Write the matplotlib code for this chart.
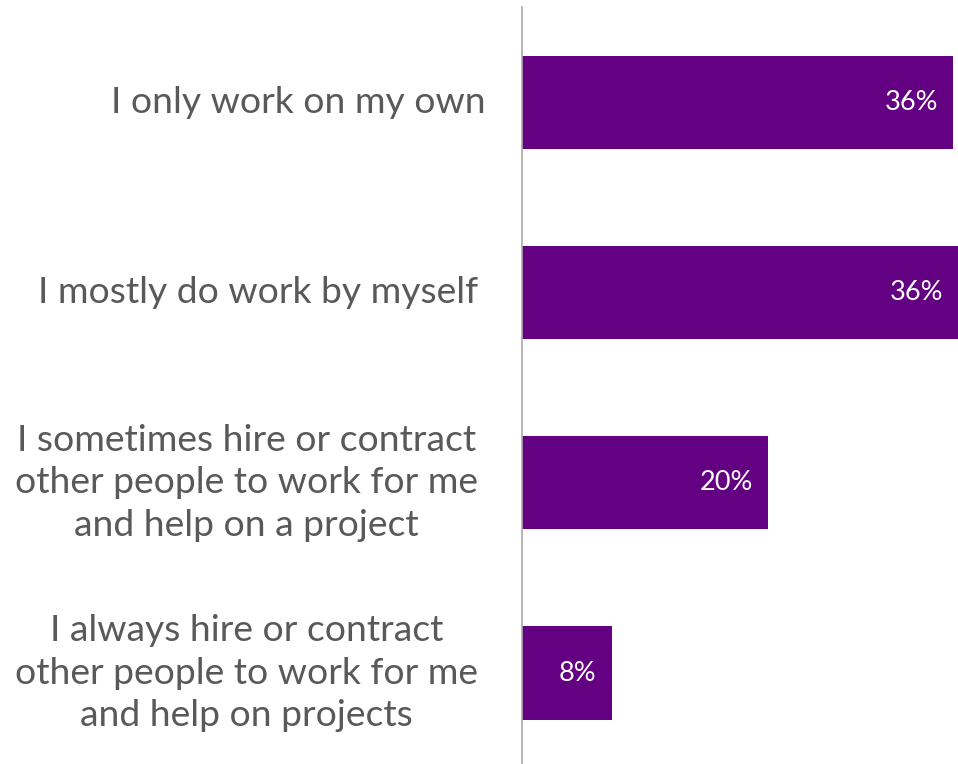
import matplotlib
matplotlib.use('Agg')
import matplotlib.pyplot as plt
from matplotlib.transforms import blended_transform_factory

categories = [
    "I only work on my own",
    "I mostly do work by myself",
    "I sometimes hire or contract\nother people to work for me\nand help on a project",
    "I always hire or contract\nother people to work for me\nand help on projects",
]
values = [35.6, 36.0, 20.3, 7.4]
value_labels = ["36%", "36%", "20%", "8%"]

PURPLE = "#640082"
TEXT_GRAY = "#595959"

plt.rcParams['font.family'] = ['Lato', 'DejaVu Sans']

fig = plt.figure(figsize=(9.58, 7.64), dpi=100)
ax = fig.add_axes([522 / 958, 0, 436 / 958, 757 / 764])

pos = list(range(len(categories)))
ax.barh(pos, values, height=0.49, color=PURPLE)
ax.set_xlim(0, 36.0)
ax.set_ylim(3.478, -0.5)

for p, v, lab in zip(pos, values, value_labels):
    ax.text(v - 1.25, p, lab, ha='right', va='center', color='white',
            fontsize=19.5)

# category labels sit left of the axis (right edge in figure pixels)
label_right = [486, 478, 478, 478]
trans = blended_transform_factory(fig.transFigure, ax.transData)
for p, cat, xr in zip(pos, categories, label_right):
    ax.text(xr / 958, p, cat, ha='right', va='center', color=TEXT_GRAY,
            fontsize=26.8, linespacing=1.36,
            multialignment='center', transform=trans)

for s in ['top', 'right', 'bottom']:
    ax.spines[s].set_visible(False)
ax.spines['left'].set_color('#aaaaaa')
ax.spines['left'].set_linewidth(1.2)
ax.set_xticks([])
ax.set_yticks([])

fig.savefig('out.png', dpi=100)
